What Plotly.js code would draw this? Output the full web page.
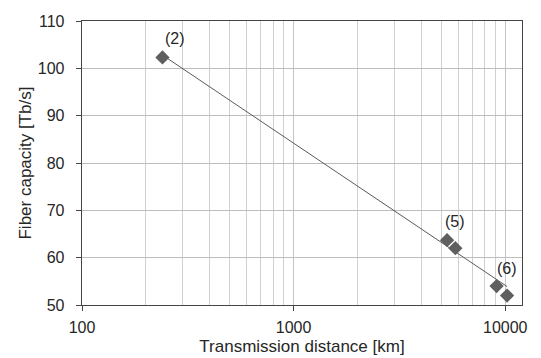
<!DOCTYPE html>
<html>
<head>
<meta charset="utf-8">
<script src="https://cdn.plot.ly/plotly-3.0.1.min.js"></script>
<style>html,body{margin:0;padding:0;background:#fff;}#chart{width:541px;height:358px;}</style>
</head>
<body>
<div id="chart"></div>
<script>
// Data
const distanceKm = [240, 5310, 5810, 9100, 10200];
const capacityTbs = [102.3, 63.7, 62.0, 54.0, 52.0];
const fitX = [240, 10200];
const fitY = [102.8, 53.9];
const labelText = ["(2)", "(5)", "(6)"];
const labelX = [276, 5810, 10190];
const labelY = [106.2, 67.6, 57.8];
const xTickVals = [100, 1000, 10000];
const xTickText = ["100", "1000", "10000"];
const xMinorVals = [200,300,400,500,600,700,800,900,2000,3000,4000,5000,6000,7000,8000,9000];

const font = {family: "Liberation Sans, Arial, sans-serif", color: "#262626"};

const traces = [
  {x: fitX, y: fitY, mode: "lines", type: "scatter",
   line: {color: "#5a5a5a", width: 1}, hoverinfo: "skip", showlegend: false},
  {x: distanceKm, y: capacityTbs, mode: "markers", type: "scatter",
   marker: {symbol: "diamond", size: 11, color: "#5f5f5f"}, showlegend: false}
];

const annotations = labelText.map((t, i) => ({
  x: Math.log10(labelX[i]), y: labelY[i], xref: "x", yref: "y",
  text: t, showarrow: false, font: Object.assign({size: 16}, font)
}));

const layout = {
  width: 541, height: 358,
  margin: {l: 82, r: 19, t: 21, b: 53},
  paper_bgcolor: "#fff", plot_bgcolor: "#fff",
  font: font,
  showlegend: false,
  xaxis: {
    type: "log", range: [2, Math.log10(12000)],
    tickmode: "array", tickvals: xTickVals, ticktext: xTickText,
    ticks: "outside", ticklen: 5, tickcolor: "#444", tickwidth: 1,
    ticklabelstandoff: 2,
    tickfont: Object.assign({size: 16}, font),
    showgrid: true, gridcolor: "#c4c4c4", gridwidth: 1,
    minor: {tickmode: "array", tickvals: xMinorVals, showgrid: true, gridcolor: "#d0d0d0", gridwidth: 1, ticks: ""},
    showline: true, linecolor: "#444", linewidth: 1.3, mirror: true,
    zeroline: false,
    title: {text: "Transmission distance [km]", font: Object.assign({size: 17}, font), standoff: 5},
    automargin: false
  },
  yaxis: {
    range: [50, 110], tickmode: "array", tickvals: [50,60,70,80,90,100,110],
    ticks: "outside", ticklen: 5, tickcolor: "#444", tickwidth: 1,
    ticklabelstandoff: 8,
    tickfont: Object.assign({size: 16}, font),
    showgrid: true, gridcolor: "#bdbdbd", gridwidth: 1,
    showline: true, linecolor: "#444", linewidth: 1.3, mirror: true,
    zeroline: false,
    title: {text: "Fiber capacity [Tb/s]", font: Object.assign({size: 17}, font), standoff: 1},
    automargin: false
  },
  annotations: annotations
};

Plotly.newPlot("chart", traces, layout, {displayModeBar: false, staticPlot: true});
</script>
</body>
</html>
